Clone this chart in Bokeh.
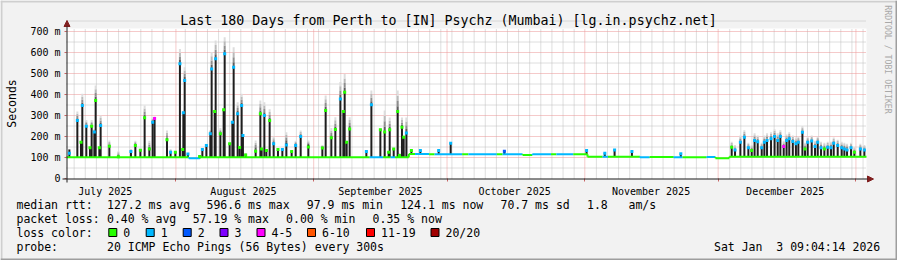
import numpy as np
from math import pi
from bokeh.plotting import figure
from bokeh.models import (FixedTicker, Label, Arrow, NormalHead, BoxAnnotation, Range1d)
from bokeh.embed import file_html
from bokeh.resources import INLINE

# ------------------------------------------------------------------
# DATA  (x = days since 2025-07-01 00:00, y = median RTT in ms)
# ------------------------------------------------------------------
month_names = ["July 2025", "August 2025", "September 2025",
               "October 2025", "November 2025", "December 2025"]
month_label_day = [15.1, 46.2, 77.0, 107.2, 137.9, 168.1]
month_start_day = [31, 62, 92, 123, 153, 184]

y_ticks = [0, 100, 200, 300, 400, 500, 600, 700]
y_tick_labels = ["0", "100 m", "200 m", "300 m", "400 m", "500 m", "600 m", "700 m"]

loss_labels = ["0", "1", "2", "3", "4-5", "6-10", "11-19", "20/20"]
loss_colors = ["#26ff00", "#00b8ff", "#0059ff", "#7e00ff",
               "#ff00ff", "#ff5500", "#ff0000", "#a10000"]

base_start = [6.38, 33.9, 36.4, 74.6, 77.6, 79.3, 80.3, 83.4, 84.8, 88.0,
              89.2, 95.4, 96.8, 103.2, 104.5, 109.0, 111.2, 115.4, 116.6,
              120.4, 123.6, 127.0, 128.2, 135.4, 137.6, 143.0, 145.0, 150.4,
              152.4, 155.5]
base_value = [101, 97, 101, 101, 101, 101, 101, 117, 117, 116,
              116, 116, 116, 115, 116, 112, 115, 116, 116,
              116, 103, 103, 103, 101, 102, 101, 101, 102,
              96, 104]
base_loss = [0, 1, 0, 1, 0, 1, 0, 0, 1, 0,
             1, 0, 1, 0, 1, 0, 1, 0, 1,
             0, 0, 1, 0, 1, 0, 1, 0, 1,
             0, 0]
base_end_day = 186.38

spike_day = [7.02, 8.82, 9.64, 9.94, 10.84, 11.66, 12.04, 12.64, 12.94, 13.77,
             14.06, 16.02, 18.05, 20.88, 21.87, 23.0, 23.96, 25.02, 25.77, 26.2,
             28.99, 29.8, 30.87, 31.9, 32.52, 32.67, 32.97, 33.7,
             36.34, 36.95, 37.85, 38.74, 39.04, 39.72, 39.94, 41.0, 41.74, 41.97,
             43.09, 43.7, 43.99, 44.89, 45.34, 45.79, 46.08, 46.69, 48.94, 50.0,
             50.29, 50.9, 51.35, 52.09, 52.99, 53.96, 54.95, 55.85, 57.04, 57.94,
             59.07, 60.8, 63.95, 64.69,
             65.97, 66.87, 68.0, 68.67, 68.97, 69.42, 70.09, 73.85, 74.98, 77.0,
             77.97, 78.87, 79.1, 80.0, 80.9, 81.28, 81.86, 82.25, 82.85, 83.98,
             86.0, 90.12, 92.82,
             104.9, 123.4, 127.5, 129.7, 133.6, 144.6,
             156.05, 156.8, 158.0, 158.9, 159.8, 160.55, 161.2, 161.9, 162.8, 163.4,
             164.0, 164.9, 165.7, 166.4, 167.0, 167.75, 168.4, 169.0, 169.8, 170.5,
             171.05, 171.96, 172.55, 173.15, 174.05, 174.8, 175.4, 176.15, 176.9, 177.65,
             178.4, 179.0, 179.9, 180.8, 181.4, 182.0, 182.9, 183.65, 185.0, 185.9]
spike_top = [138, 276, 173, 348, 249, 146, 249, 221, 371, 146,
             252, 154, 108, 133, 157, 135, 289, 141, 268, 286,
             184, 125, 125, 546, 138, 313, 467, 117,
             110, 138, 157, 213, 522, 319, 570, 213, 327, 594,
             165, 268, 530, 308, 148, 348, 205, 117, 138, 308,
             141, 300, 133, 276, 165, 138, 138, 170, 128, 157,
             200, 160, 150, 324,
             194, 233, 379, 319, 411, 173, 236, 128, 351, 232,
             221, 125, 232, 140, 319, 115, 244, 197, 217, 133,
             133, 133, 168,
             133, 133, 120, 136, 128, 118,
             149, 136, 173, 197, 146, 133, 181, 175, 146, 173,
             181, 189, 200, 181, 200, 152, 181, 189, 176, 165,
             173, 220, 141, 173, 178, 152, 173, 146, 141, 149,
             146, 168, 157, 146, 141, 136, 146, 125, 141, 136]
smoke_top = [140, 319, 180, 403, 279, 150, 279, 235, 443, 150,
             300, 181, 130, 140, 180, 140, 348, 180, 290, 295,
             229, 140, 130, 617, 140, 320, 530, 120,
             112, 145, 165, 230, 602, 325, 657, 240, 335, 673,
             170, 275, 625, 363, 155, 403, 210, 120, 181, 371,
             145, 363, 140, 330, 200, 145, 145, 220, 135, 180,
             229, 181, 160, 395,
             240, 292, 459, 325, 498, 180, 292, 135, 419, 240,
             324, 130, 290, 145, 419, 120, 290, 205, 290, 140,
             137, 137, 172,
             136, 136, 122, 140, 130, 120,
             175, 160, 205, 230, 170, 160, 215, 205, 170, 205,
             215, 220, 235, 215, 230, 180, 210, 220, 205, 195,
             200, 250, 170, 200, 205, 180, 200, 175, 170, 175,
             175, 195, 185, 175, 170, 165, 170, 150, 165, 160]
spike_median = [120, 276, 173, 348, 249, 146, 249, 221, 371, 146,
                252, 154, 103, 128, 157, 135, 289, 141, 268, 286,
                184, 125, 125, 546, 138, 313, 467, 117,
                105, 138, 157, 213, 522, 319, 570, 213, 327, 594,
                165, 268, 530, 308, 148, 348, 205, 112, 130, 308,
                141, 300, 133, 276, 165, 138, 138, 160, 128, 157,
                200, 150, 145, 324,
                194, 233, 379, 319, 411, 173, 236, 128, 351, 232,
                221, 125, 232, 140, 319, 110, 244, 197, 217, 133,
                133, 133, 168,
                130, 133, 120, 136, 128, 118,
                149, 136, 173, 197, 146, 133, 181, 175, 146, 173,
                181, 189, 200, 181, 200, 152, 181, 189, 176, 165,
                173, 220, 141, 173, 178, 152, 173, 146, 141, 149,
                146, 168, 157, 146, 141, 136, 146, 125, 141, 136]
spike_loss = [1, 1, 0, 1, 1, 0, 0, 1, 0, 0,
              1, 0, 0, 1, 0, 0, 0, 0, 1, 4,
              0, 1, 0, 1, 0, 1, 1, 1,
              0, 1, 1, 1, 1, 0, 1, 0, 0, 1,
              0, 1, 1, 1, 0, 1, 1, 0, 0, 0,
              0, 1, 0, 0, 1, 0, 1, 1, 0, 1,
              1, 0, 0, 0,
              0, 0, 1, 0, 0, 0, 0, 1, 1, 0,
              0, 0, 0, 0, 0, 0, 0, 0, 1, 0,
              1, 1, 1,
              2, 1, 1, 1, 1, 1,
              0, 1, 1, 1, 1, 0, 1, 1, 1, 1,
              1, 1, 1, 1, 1, 4, 1, 1, 1, 1,
              1, 1, 0, 1, 1, 1, 1, 1, 0, 1,
              1, 1, 1, 1, 1, 1, 1, 0, 1, 1]

legend_rows = [
    [("median rtt:", 16), ("127.2 ms avg", 106.5), ("596.6 ms max", 206),
     ("97.9 ms min", 306.3), ("124.1 ms now", 399.7), ("70.7 ms sd", 500),
     ("1.8", 586.5), ("am/s", 628)],
    [("packet loss:", 16), ("0.40 % avg", 106.5), ("57.19 % max", 192.2),
     ("0.00 % min", 285.6), ("0.35 % now", 372.1)],
    [("loss color:", 16)],
    [("probe:", 16), ("20 ICMP Echo Pings (56 Bytes) every 300s", 106.5)],
]
title_text = "Last 180 Days from Perth to [IN] Psychz (Mumbai) [lg.in.psychz.net]"
stamp_date = ("Sat Jan", "3 09:04:14 2026")

# ------------------------------------------------------------------
# LAYOUT: the frame covers the whole canvas; the plot area is mapped
# so that day X0..X1 -> px 66..866 and 0..Y1 ms -> px 178..28
# ------------------------------------------------------------------
W, H = 897, 260
FL, FR, FT, FB = 66, 866, 28, 178
X0, X1 = 6.38, 186.38
Y0, Y1 = 0.0, 714.3
FONT = "DejaVu Sans Mono"
LEG = "11.5px"


def dx(px):
    return X0 + (px - FL) * (X1 - X0) / (FR - FL)


def vy(py):
    return Y0 + (FB - py) * (Y1 - Y0) / (FB - FT)


p = figure(width=W, height=H, x_range=Range1d(dx(0), dx(W)), y_range=Range1d(vy(H), vy(0)),
           min_border=0, output_backend="svg", toolbar_location=None,
           background_fill_color="#f2f2f2", border_fill_color="#f2f2f2",
           outline_line_color=None)
p.xgrid.visible = False
p.ygrid.visible = False

# plot canvas
p.quad(left=[X0], right=[X1], bottom=[Y0], top=[Y1], fill_color="white", line_color=None)

# grid (rrdtool style, dotted)
MINOR = "#bdbdbd"
MAJOR = "#eb9595"
minor_x = [d for d in np.arange(8.1, X1, 2.5) if min(abs(d - m) for m in month_start_day) > 0.6]
p.segment(x0=minor_x, y0=Y0, x1=minor_x, y1=Y1, line_color=MINOR, line_dash="1 1", line_width=1)
minor_y = [v + 50 for v in y_ticks]
p.segment(x0=X0, y0=minor_y, x1=X1, y1=minor_y, line_color=MINOR, line_dash="1 1", line_width=1)
major_x = [m for m in month_start_day if m < X1]
p.segment(x0=major_x, y0=Y0, x1=major_x, y1=Y1, line_color=MAJOR, line_dash="1 1", line_width=1)
p.segment(x0=X0, y0=y_ticks[1:], x1=X1, y1=y_ticks[1:], line_color=MAJOR, line_dash="1 1", line_width=1)

# axes at fixed locations
xa = p.xaxis[0]
xa.fixed_location = 0
xa.bounds = (X0, X1)
xa.ticker = FixedTicker(ticks=month_label_day, minor_ticks=month_start_day)
xa.major_label_overrides = {d: n for d, n in zip(month_label_day, month_names)}
xa.major_tick_line_color = None
xa.major_tick_in = 0
xa.major_tick_out = 0
xa.minor_tick_in = 0
xa.minor_tick_out = 3
xa.minor_tick_line_color = "#c86464"
xa.axis_line_color = None
xa.major_label_standoff = 4
xa.major_label_text_font = FONT
xa.major_label_text_font_size = "10px"
xa.major_label_text_color = "black"

ya = p.yaxis[0]
ya.fixed_location = X0
ya.bounds = (Y0, Y1)
ya.ticker = FixedTicker(ticks=y_ticks, minor_ticks=[])
ya.major_label_overrides = {v: s for v, s in zip(y_ticks, y_tick_labels)}
ya.major_tick_in = 0
ya.major_tick_out = 2
ya.major_tick_line_color = "#c86464"
ya.axis_line_color = None
ya.major_label_standoff = 4
ya.major_label_text_font = FONT
ya.major_label_text_font_size = "10px"
ya.major_label_text_color = "black"

# ------------------------------------------------------------------
# DATA MARKS
# ------------------------------------------------------------------
bs = np.array(base_start)
be = np.append(bs[1:], base_end_day)
bv = np.array(base_value, dtype=float)
bc = [loss_colors[i] for i in base_loss]

sd = np.array(spike_day)
idx = np.searchsorted(bs, sd, side="right") - 1
sbase = bv[idx]
st = np.array(spike_top, dtype=float)
sm = np.array(smoke_top, dtype=float)

smoke_cols = ["#5c5c5c", "#8e8e8e", "#b9b9b9", "#dddddd"]
for k, c in enumerate(smoke_cols):
    y0 = st + (sm - st) * k / 4.0
    y1 = st + (sm - st) * (k + 1) / 4.0
    p.segment(x0=sd, y0=y0, x1=sd, y1=y1, line_color=c, line_width=2)

p.segment(x0=sd, y0=sbase, x1=sd, y1=st, line_color="#1e1e1e", line_width=2)

p.segment(x0=bs, y0=bv, x1=be, y1=bv, line_color=bc, line_width=2)
p.segment(x0=be[:-1], y0=bv[:-1], x1=be[:-1], y1=bv[1:], line_color=bc[1:], line_width=2)

p.scatter(x=sd, y=spike_median, marker="square", size=3,
          fill_color=[loss_colors[i] for i in spike_loss], line_color=None)

# ------------------------------------------------------------------
# DECORATION (positions given in canvas pixels)
# ------------------------------------------------------------------
def box(l, t, r, b, color, line=None):
    p.add_layout(BoxAnnotation(left=dx(l), right=dx(r), top=vy(t), bottom=vy(b),
                               fill_color=color, fill_alpha=1.0,
                               line_color=line, line_width=1, line_alpha=1.0))


def txt(s, px, py, size=LEG, align="left", color="black", angle=0.0):
    p.add_layout(Label(x=dx(px), y=vy(py), text=s, text_font=FONT,
                       text_font_size=size, text_align=align,
                       text_baseline="middle", text_color=color, angle=angle))


# 3D frame of the image
box(0, 0, W, 2, "#cfcfcf")
box(0, 0, 2, H, "#cfcfcf")
box(0, H - 2, W, H, "#9e9e9e")
box(W - 2, 0, W, H, "#9e9e9e")

# axis lines with arrow heads
p.add_layout(Arrow(x_start=dx(62), y_start=vy(178.5), x_end=dx(873), y_end=vy(178.5),
                   line_color="#1f1f1f", line_width=1,
                   end=NormalHead(size=6, fill_color="#801f1f", line_color="#801f1f")))
p.add_layout(Arrow(x_start=dx(66.5), y_start=vy(182), x_end=dx(66.5), y_end=vy(20),
                   line_color="#1f1f1f", line_width=1,
                   end=NormalHead(size=6, fill_color="#801f1f", line_color="#801f1f")))

txt(title_text, 448, 19.5, size="13.3px", align="center")
txt("Seconds", 11, 103, angle=pi / 2, align="center")
txt("RRDTOOL / TOBI OETIKER", 887, 59, size="8.2px", align="center",
    color="#a8a8a8", angle=-pi / 2)

row_y = [204, 218, 232, 246]
for row, yy in zip(legend_rows, row_y):
    for s, xx in row:
        txt(s, xx, yy)

box_left = [108.3, 145.7, 182.7, 219.5, 256.5, 307, 366, 430.5]
for lab, col, bl in zip(loss_labels, loss_colors, box_left):
    box(bl, 228, bl + 8, 236, col, line="black")
    txt(lab, bl + 14.5, 232)

txt(stamp_date[0], 713.5, 246)
txt(stamp_date[1], 775.8, 246)

open("out.html", "w").write(file_html(p, INLINE))
